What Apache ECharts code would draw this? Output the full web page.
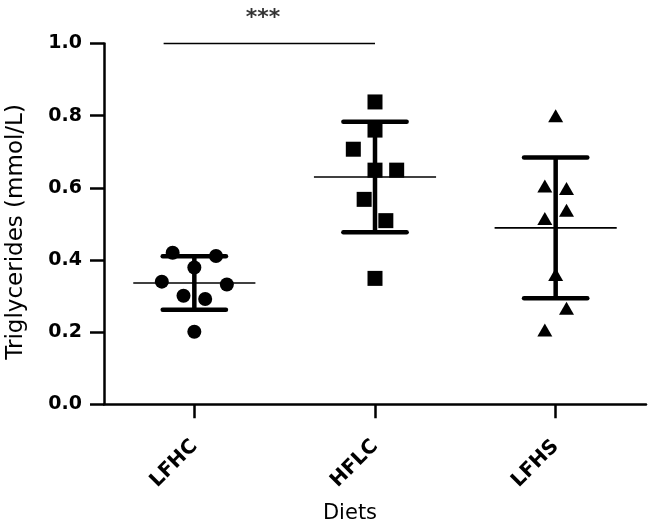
<!DOCTYPE html>
<html>
<head>
<meta charset="utf-8">
<script src="https://cdn.jsdelivr.net/npm/echarts@6/dist/echarts.min.js"></script>
<style>html,body{margin:0;padding:0;background:#fff;}#c{width:653px;height:528px;}</style>
</head>
<body>
<div id="c"></div>
<script>
const categories = ['LFHC', 'HFLC', 'LFHS'];
const lfhcValues = [0.420, 0.411, 0.379, 0.340, 0.332, 0.301, 0.292, 0.201];
const hflcValues = [0.838, 0.760, 0.707, 0.649, 0.649, 0.568, 0.509, 0.349];
const lfhsValues = [0.800, 0.605, 0.598, 0.538, 0.515, 0.360, 0.266, 0.206];
const lfhcJitter = [-0.12, 0.12, 0, -0.18, 0.18, -0.06, 0.06, 0];
const hflcJitter = [0, 0, -0.12, 0, 0.12, -0.06, 0.06, 0];
const lfhsJitter = [0, -0.06, 0.06, 0.06, -0.06, 0, 0.06, -0.06];
const means = [0.336, 0.630, 0.489];
const sds = [0.074, 0.153, 0.195];
const yTicks = [0, 0.2, 0.4, 0.6, 0.8, 1.0];
const sigSpan = [0.33, 1.5];
const sigY = 1.0;
const sigText = '***';
const sigTextX = 0.88;

const groups = [lfhcValues, hflcValues, lfhsValues];
const jitters = [lfhcJitter, hflcJitter, lfhsJitter];
const symbols = ['circle', 'rect', 'triangle'];
const symbolSizes = [14, 15, [15, 13]];

const chart = echarts.init(document.getElementById('c'), null, {renderer: 'canvas'});

const scatterSeries = groups.map((vals, g) => ({
  type: 'scatter',
  xAxisIndex: 1,
  symbol: symbols[g],
  symbolSize: symbolSizes[g],
  itemStyle: {color: '#000', opacity: 1},
  data: vals.map((v, i) => [g + 0.5 + jitters[g][i], v]),
  z: 5,
  silent: true
}));

const option = {
  backgroundColor: '#fff',
  animation: false,
  grid: {left: 104, right: 7, top: 43.5, bottom: 123.7, containLabel: false, outerBoundsMode: 'none'},
  xAxis: [{
    type: 'category',
    data: categories,
    boundaryGap: true,
    name: 'Diets',
    nameLocation: 'middle',
    nameGap: 99,
    nameTextStyle: {fontFamily: 'DejaVu Sans', fontSize: 21, color: '#000', padding: [0, 50, 0, 0]},
    axisLine: {show: true, lineStyle: {color: '#000', width: 2.5}},
    axisTick: {show: true, alignWithLabel: true, length: 14, lineStyle: {color: '#000', width: 2.5}},
    axisLabel: {rotate: 45, margin: 39, fontFamily: 'DejaVu Sans', fontWeight: 'bold', fontSize: 20, color: '#000'},
    splitLine: {show: false}
  }, {
    type: 'value',
    min: 0,
    max: 3,
    show: false
  }],
  yAxis: {
    type: 'value',
    min: 0,
    max: 1,
    interval: 0.2,
    name: 'Triglycerides (mmol/L)',
    nameLocation: 'middle',
    nameGap: 76,
    nameTextStyle: {fontFamily: 'DejaVu Sans', fontSize: 23, color: '#000', padding: [0, 16, 0, 0]},
    axisLine: {show: true, lineStyle: {color: '#000', width: 2.5}},
    axisTick: {show: true, length: 14, lineStyle: {color: '#000', width: 2.5}},
    axisLabel: {margin: 22, fontFamily: 'DejaVu Sans', fontWeight: 'bold', fontSize: 19, color: '#000',
      formatter: v => yTicks.some(t => Math.abs(t - v) < 1e-9) ? v.toFixed(1) : ''},
    splitLine: {show: false}
  },
  series: [
    {
      type: 'custom',
      xAxisIndex: 1,
      silent: true,
      z: 3,
      data: categories.map((_, i) => [i + 0.5, means[i], sds[i]]),
      renderItem: function (params, api) {
        const c = api.value(0), m = api.value(1), s = api.value(2);
        const top = api.coord([c, m + s]), bot = api.coord([c, m - s]);
        const ml = api.coord([c - 0.338, m]), mr = api.coord([c + 0.338, m]);
        const tl = api.coord([c - 0.175, m + s]), tr = api.coord([c + 0.175, m + s]);
        const bl = api.coord([c - 0.175, m - s]), br = api.coord([c + 0.175, m - s]);
        const thick = {stroke: '#000', lineWidth: 4.5, lineCap: 'round'};
        return {
          type: 'group',
          children: [
            {type: 'line', shape: {x1: top[0], y1: top[1], x2: bot[0], y2: bot[1]}, style: {stroke: '#000', lineWidth: 4.5}},
            {type: 'line', shape: {x1: tl[0], y1: tl[1], x2: tr[0], y2: tr[1]}, style: thick},
            {type: 'line', shape: {x1: bl[0], y1: bl[1], x2: br[0], y2: br[1]}, style: thick},
            {type: 'line', shape: {x1: ml[0], y1: ml[1], x2: mr[0], y2: mr[1]}, style: {stroke: '#000', lineWidth: 1.6}}
          ]
        };
      }
    },
    ...scatterSeries,
    {
      type: 'line',
      xAxisIndex: 1,
      data: [[sigSpan[0], sigY], [sigSpan[1], sigY]],
      symbol: 'none',
      clip: false,
      silent: true,
      lineStyle: {color: '#000', width: 1.6}
    },
    {
      type: 'scatter',
      xAxisIndex: 1,
      data: [[sigTextX, sigY]],
      symbolSize: 0,
      clip: false,
      silent: true,
      label: {
        show: true,
        position: 'inside',
        offset: [0, -25],
        formatter: sigText,
        fontFamily: 'DejaVu Sans',
        fontWeight: 'bold',
        fontSize: 22,
        color: '#000'
      }
    }
  ]
};
chart.setOption(option);
</script>
</body>
</html>
